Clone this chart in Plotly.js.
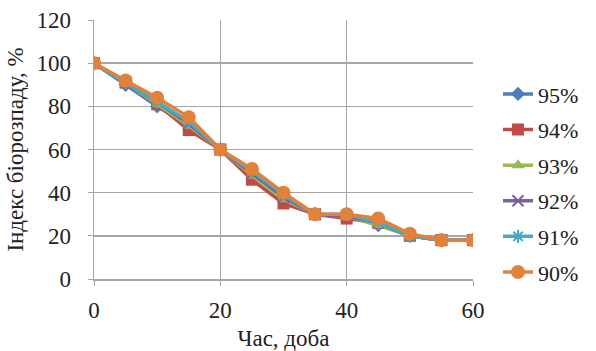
<!DOCTYPE html>
<html><head><meta charset="utf-8">
<script src="https://cdn.plot.ly/plotly-3.0.1.min.js"></script>
<style>html,body{margin:0;padding:0;background:#fff}#c{width:596px;height:351px}</style>
</head><body><div id="c"></div>
<script>
const days = [0,5,10,15,20,25,30,35,40,45,50,55,60];
const names = ["95%","94%","93%","92%","91%","90%"];
const s95 = [100,90,80,71,60,49,37,30,29,25,20,18,18];
const s94 = [100,91,81,69,60,46,35,30,28,26,20,18,18];
const s93 = [100,91,81,71,60,48,37,30,29,25,20,18,18];
const s92 = [100,91,82,72,60,49,38,30,29,26,20,18,18];
const s91 = [100,91,82,73,60,50,39,30,30,26,20,18,18];
const s90 = [100,92,84,75,60,51,40,30,30,28,21,18,18];
const series = [s95,s94,s93,s92,s91,s90];
const colors = ["#4A7EBB","#BE4B48","#98B954","#7D60A0","#46AAC5","#E0823B"];
const symbols = ["diamond","square","triangle-up","x-thin-open","asterisk-open","circle"];
const sizes = [11,12,12,11,11,14];
const fam = "Liberation Serif";
const traces = series.map((y,i)=>({
  x: days, y: y, name: names[i], type:"scatter", mode:"lines+markers",
  legendgroup: "g"+i,
  line:{color:colors[i], width:3.5},
  marker:{symbol:symbols[i], size:sizes[i], color:colors[i], line:{color:colors[i], width:(i===3||i===4)?2:0}}
}));
const tf = {family:fam, size:23, color:"#222"};
const layout = {
  width:596, height:351,
  margin:{l:94,r:123,t:20,b:72},
  paper_bgcolor:"#fff", plot_bgcolor:"#fff",
  font:tf,
  showlegend:true,
  legend:{x:1.066, xanchor:"left", y:0.37, yanchor:"middle", tracegroupgap:4, font:{family:fam,size:22,color:"#222"}, itemwidth:30},
  xaxis:{range:[0,60], tickvals:[0,20,40,60], showgrid:true, gridcolor:"#A6A6A6", gridwidth:1.5,
    showline:true, linecolor:"#A6A6A6", linewidth:1.5, ticks:"outside", ticklen:5, tickcolor:"#A6A6A6",
    zeroline:false, tickfont:tf, ticklabelstandoff:5,
    title:{text:"Час, доба", font:tf, standoff:16}},
  yaxis:{range:[0,120], tickvals:[0,20,40,60,80,100,120], showgrid:true, gridcolor:"#A6A6A6", gridwidth:1.5,
    showline:true, linecolor:"#A6A6A6", linewidth:1.5, ticks:"outside", ticklen:5, tickcolor:"#A6A6A6",
    zeroline:false, tickfont:tf, ticklabelstandoff:12,
    title:{text:"Індекс біорозпаду, %", font:tf, standoff:6}}
};
Plotly.newPlot("c", traces, layout, {staticPlot:true, displayModeBar:false});
</script></body></html>
